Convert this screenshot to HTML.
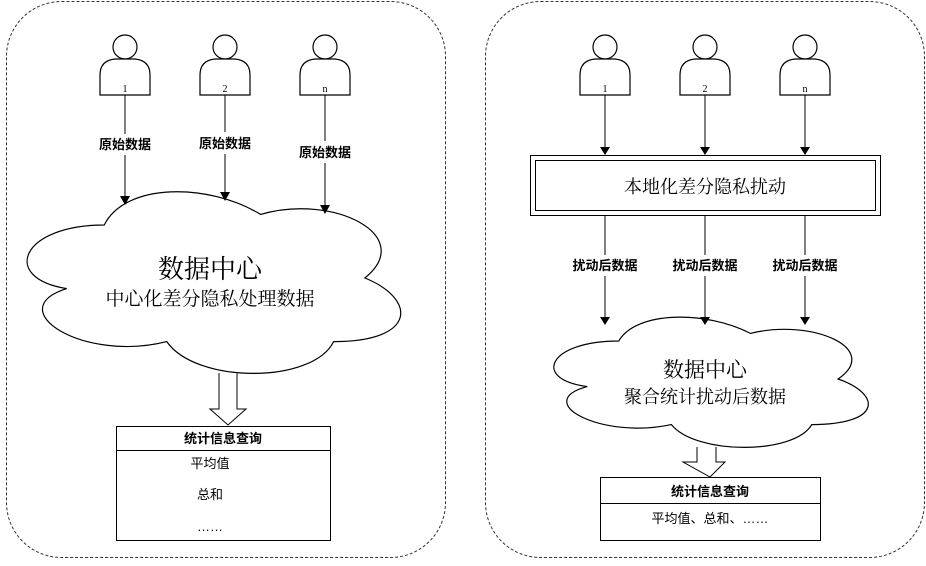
<!DOCTYPE html>
<html><head><meta charset="utf-8"><style>
body{margin:0;background:#fff}
svg text{font-family:"Liberation Sans","Noto Sans CJK SC",sans-serif;fill:#000}
svg text.s{font-family:"Liberation Serif","Noto Serif CJK SC",serif}
.b{font-weight:bold}
</style></head><body>
<svg width="926" height="561" viewBox="0 0 926 561" xmlns="http://www.w3.org/2000/svg">
<rect x="6.5" y="1.5" width="439" height="556" rx="55" fill="none" stroke="#333" stroke-dasharray="3,2"/>
<rect x="485.5" y="1.5" width="439" height="556" rx="55" fill="none" stroke="#333" stroke-dasharray="3,2"/>

<path d="M104.25,225 C20.85,225 0,278 66.7,288.6 C0,309.8 83.4,362.8 166.8,341.6 C196,384 312.75,384 333.6,341.6 C417,341.6 417,299.2 364.9,278 C417,235.6 333.6,193.2 260.6,214.4 C208.5,182.6 125.1,182.6 104.25,225 Z" fill="#fff" stroke="#000" stroke-width="1.2"/>
<path d="M618.75,341 C548.6,341 531,379 587.2,386.6 C531,401.8 601.2,439.8 671.4,424.6 C696,455 794.25,455 811.8,424.6 C882,424.6 882,394.2 838.1,379 C882,348.6 811.8,318.2 750.4,333.4 C706.5,310.6 636.3,310.6 618.75,341 Z" fill="#fff" stroke="#000" stroke-width="1.2"/>

<g fill="#fff" stroke="#000" stroke-width="1.2">
<g transform="translate(125,95)"><circle cx="0" cy="-48" r="12"/><path d="M-25,0 L-25,-20 C-25,-30 -20,-35 -10,-36 L10,-36 C20,-35 25,-30 25,-20 L25,0 Z"/></g>
<g transform="translate(225,95)"><circle cx="0" cy="-48" r="12"/><path d="M-25,0 L-25,-20 C-25,-30 -20,-35 -10,-36 L10,-36 C20,-35 25,-30 25,-20 L25,0 Z"/></g>
<g transform="translate(325,95)"><circle cx="0" cy="-48" r="12"/><path d="M-25,0 L-25,-20 C-25,-30 -20,-35 -10,-36 L10,-36 C20,-35 25,-30 25,-20 L25,0 Z"/></g>
<g transform="translate(605,95)"><circle cx="0" cy="-48" r="12"/><path d="M-25,0 L-25,-20 C-25,-30 -20,-35 -10,-36 L10,-36 C20,-35 25,-30 25,-20 L25,0 Z"/></g>
<g transform="translate(705,95)"><circle cx="0" cy="-48" r="12"/><path d="M-25,0 L-25,-20 C-25,-30 -20,-35 -10,-36 L10,-36 C20,-35 25,-30 25,-20 L25,0 Z"/></g>
<g transform="translate(805,95)"><circle cx="0" cy="-48" r="12"/><path d="M-25,0 L-25,-20 C-25,-30 -20,-35 -10,-36 L10,-36 C20,-35 25,-30 25,-20 L25,0 Z"/></g>
</g>
<g font-size="10" text-anchor="middle"><text class="s" x="125" y="92">1</text><text class="s" x="225" y="92">2</text><text class="s" x="325" y="92">n</text>
<text class="s" x="605" y="92">1</text><text class="s" x="705" y="92">2</text><text class="s" x="805" y="92">n</text></g>

<g stroke="#000" stroke-width="1">
<line x1="125" y1="95" x2="125" y2="134"/><line x1="125" y1="155" x2="125" y2="197"/>
<line x1="225" y1="95" x2="225" y2="132"/><line x1="225" y1="154" x2="225" y2="193"/>
<line x1="325" y1="95" x2="325" y2="141"/><line x1="325" y1="163" x2="325" y2="206"/>
</g>
<g fill="#000"><path d="M120,196 L130,196 L125,205 Z"/><path d="M220,192 L230,192 L225,201 Z"/><path d="M320,205 L330,205 L325,214 Z"/></g>
<g font-size="13" text-anchor="middle"><text x="125" y="149" class="b">原始数据</text><text x="225" y="148" class="b">原始数据</text><text x="325" y="157" class="b">原始数据</text></g>
<text class="s" x="210" y="278" font-size="26" text-anchor="middle">数据中心</text>
<text class="s" x="210" y="305" font-size="19" text-anchor="middle">中心化差分隐私处理数据</text>
<path d="M219,373 L219,409 L210,409 L228,425 L246,409 L237,409 L237,373" fill="#fff" stroke="#000"/>
<rect x="116.5" y="426.5" width="214" height="114" fill="#fff" stroke="#000"/>
<line x1="116" y1="450.5" x2="330" y2="450.5" stroke="#000"/>
<text x="223" y="443" font-size="13" text-anchor="middle" class="b">统计信息查询</text>
<g font-size="13" text-anchor="middle"><text x="210" y="468">平均值</text><text x="210" y="499">总和</text><text x="210" y="531">……</text></g>

<g stroke="#000"><line x1="605" y1="95" x2="605" y2="150"/><line x1="705" y1="95" x2="705" y2="150"/><line x1="805" y1="95" x2="805" y2="150"/>
<line x1="605" y1="215" x2="605" y2="255"/><line x1="605" y1="276" x2="605" y2="320"/>
<line x1="705" y1="215" x2="705" y2="255"/><line x1="705" y1="276" x2="705" y2="320"/>
<line x1="805" y1="215" x2="805" y2="255"/><line x1="805" y1="276" x2="805" y2="320"/></g>
<g fill="#000"><path d="M600,147 L610,147 L605,155 Z"/><path d="M700,147 L710,147 L705,155 Z"/><path d="M800,147 L810,147 L805,155 Z"/>
<path d="M600,317 L610,317 L605,325 Z"/><path d="M700,317 L710,317 L705,325 Z"/><path d="M800,317 L810,317 L805,325 Z"/></g>
<rect x="530.5" y="155.5" width="350" height="60" fill="#fff" stroke="#000"/>
<rect x="535.5" y="160.5" width="340" height="50" fill="#fff" stroke="#000"/>
<text class="s" x="705" y="193" font-size="18" text-anchor="middle">本地化差分隐私扰动</text>
<g font-size="13" text-anchor="middle"><text x="605" y="270" class="b">扰动后数据</text><text x="705" y="270" class="b">扰动后数据</text><text x="805" y="270" class="b">扰动后数据</text></g>
<text class="s" x="705" y="377" font-size="21" text-anchor="middle">数据中心</text>
<text class="s" x="705" y="403" font-size="18" text-anchor="middle">聚合统计扰动后数据</text>
<path d="M697,447 L697,462 L683,462 L710,477 L725,462 L716,462 L716,447" fill="#fff" stroke="#000"/>
<rect x="600.5" y="477.5" width="220" height="63" fill="#fff" stroke="#000"/>
<line x1="600" y1="503.5" x2="820" y2="503.5" stroke="#000"/>
<text x="710" y="496" font-size="13" text-anchor="middle" class="b">统计信息查询</text>
<text x="710" y="523" font-size="13" text-anchor="middle">平均值、总和、……</text>
</svg>
</body></html>
